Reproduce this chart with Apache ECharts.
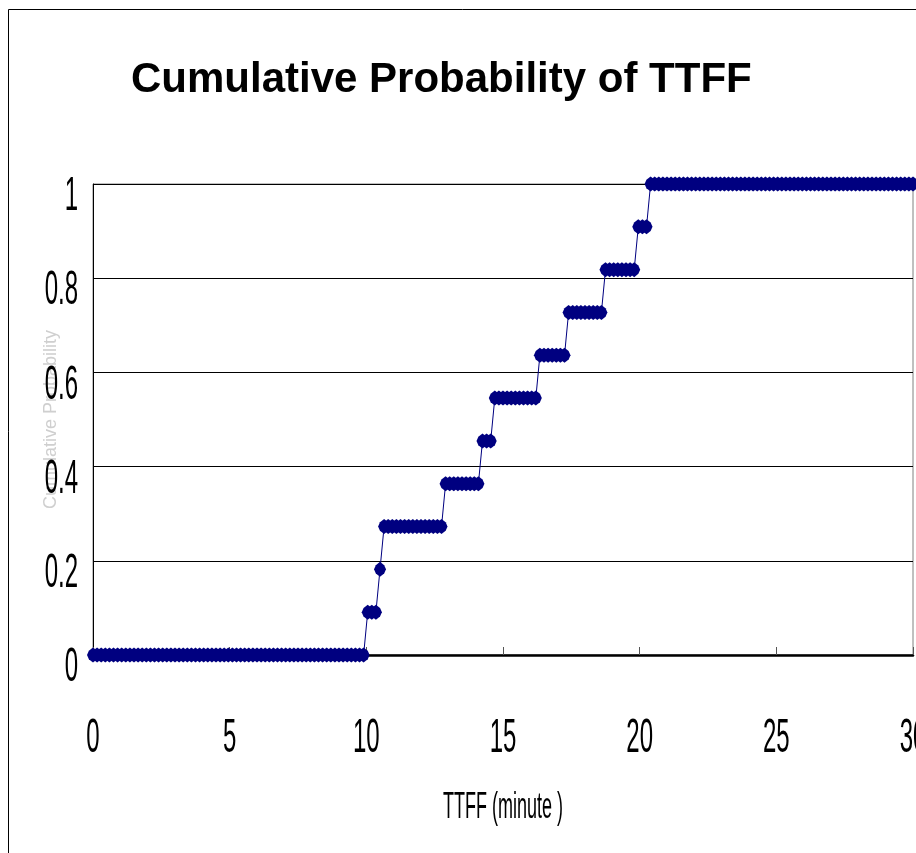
<!DOCTYPE html>
<html>
<head>
<meta charset="utf-8">
<script src="https://cdn.jsdelivr.net/npm/echarts@6/dist/echarts.min.js"></script>
<style>
html,body{margin:0;padding:0;background:#fff;}
#chart{width:916px;height:853px;}
</style>
</head>
<body>
<div id="chart"></div>
<script>
// Observed TTFF of each of the 11 trials (minutes), read from the step positions
const ttffSamples = [9.97, 10.42, 10.6, 12.78, 14.12, 14.65, 16.28, 17.38, 18.72, 19.92, 20.3];
// Evaluation times of the cumulative curve (minutes): every 0.15 min from 0 to 30
const evalStepHundredths = 15;
const evalCount = 201;
const xTickLabels = ['0', '5', '10', '15', '20', '25', '30'];
const yTickLabels = ['0', '0.2', '0.4', '0.6', '0.8', '1'];
const xAxisTitle = 'TTFF (minute )';
const yAxisTitle = 'Cumulative Probability';
const chartTitle = 'Cumulative Probability of TTFF';

const cdfPoints = [];
for (let i = 0; i < evalCount; i++) {
  const t = i * evalStepHundredths / 100;
  const n = ttffSamples.filter(s => s <= t).length;
  cdfPoints.push([t, n / ttffSamples.length]);
}

const sans = "'Liberation Sans', Arial, sans-serif";
const chart = echarts.init(document.getElementById('chart'), null, {renderer: 'canvas'});
chart.setOption({
  animation: false,
  backgroundColor: '#ffffff',
  title: {
    text: chartTitle,
    left: 126,
    top: 54,
    textStyle: {fontFamily: sans, fontWeight: 'bold', fontSize: 42, color: '#000'}
  },
  graphic: [{
    type: 'rect', silent: true, z: -1,
    shape: {x: 8.5, y: 9.5, width: 1000, height: 1000},
    style: {fill: 'none', stroke: '#000', lineWidth: 1}
  }],
  grid: {
    left: 93, right: 3, top: 184, bottom: 198,
    outerBoundsMode: 'none', containLabel: false,
    show: true, borderColor: '#808080', borderWidth: 1, backgroundColor: 'transparent'
  },
  xAxis: {
    type: 'value', min: 0, max: 30, interval: 5,
    name: xAxisTitle, nameLocation: 'middle', nameGap: 135, nameMoveOverlap: false,
    nameTextStyle: {fontFamily: sans, fontSize: 18, color: '#000', verticalAlign: 'top', align: 'center'},
    axisLine: {show: true, onZero: false, lineStyle: {color: '#000', width: 2.5}},
    axisTick: {show: true, inside: true, length: 8, lineStyle: {color: '#555', width: 1}},
    axisLabel: {
      margin: 60, fontFamily: sans, fontSize: 24, color: '#000', verticalAlign: 'top',
      formatter: (v) => xTickLabels[Math.round(v / 5)]
    },
    splitLine: {show: false}
  },
  yAxis: {
    type: 'value', min: 0, max: 1, interval: 0.2,
    name: yAxisTitle, nameLocation: 'middle', nameGap: 42, nameRotate: 90, nameMoveOverlap: false,
    nameTextStyle: {fontFamily: sans, fontSize: 18, color: '#cfcfcf', verticalAlign: 'middle', align: 'center'},
    axisLine: {show: true, lineStyle: {color: '#000', width: 1}},
    axisTick: {show: false},
    axisLabel: {
      margin: 15, fontFamily: sans, fontSize: 24, color: '#000', verticalAlign: 'top',
      formatter: (v) => yTickLabels[Math.round(v / 0.2)]
    },
    splitLine: {show: true, lineStyle: {color: '#000', width: 1}}
  },
  series: [{
    type: 'line',
    data: cdfPoints,
    symbol: 'path://M0,-8 L4.5,-4.5 L6.5,0 L4.5,4.5 L0,8 L-4.5,4.5 L-6.5,0 L-4.5,-4.5 Z',
    symbolSize: [12, 15],
    showAllSymbol: true,
    clip: false,
    itemStyle: {color: '#000080'},
    lineStyle: {color: '#000080', width: 1}
  }]
});

// The reference's axis texts are drawn tall and narrow: stretch the library's own label texts vertically.
(function stretchAxisTexts() {
  try {
    const zr = chart.getZr();
    const texts = new Set();
    zr.storage.getDisplayList(true).forEach(el => {
      let t = el;
      if (el.type === 'tspan' && el.parent) t = el.parent;
      if (t && !t.isGroup && t.type !== 'tspan' && t.style && typeof t.style.text === 'string') texts.add(t);
    });
    texts.forEach(el => {
      const s = el.style.text;
      if (yTickLabels.includes(s) && el.x < 93 && el.y < 680) {
        el.scaleY = 2; el.originX = 0; el.originY = 11;
      } else if (xTickLabels.includes(s) && el.y > 690) {
        el.scaleY = 2; el.originX = 0; el.originY = 0;
      } else if (s === xAxisTitle) {
        el.scaleY = 2; el.originX = 0; el.originY = 0;
      } else {
        return;
      }
      el.markRedraw && el.markRedraw();
    });
    zr.refreshImmediately ? zr.refreshImmediately() : zr.refresh();
  } catch (e) { /* leave labels unstretched */ }
})();
</script>
</body>
</html>
